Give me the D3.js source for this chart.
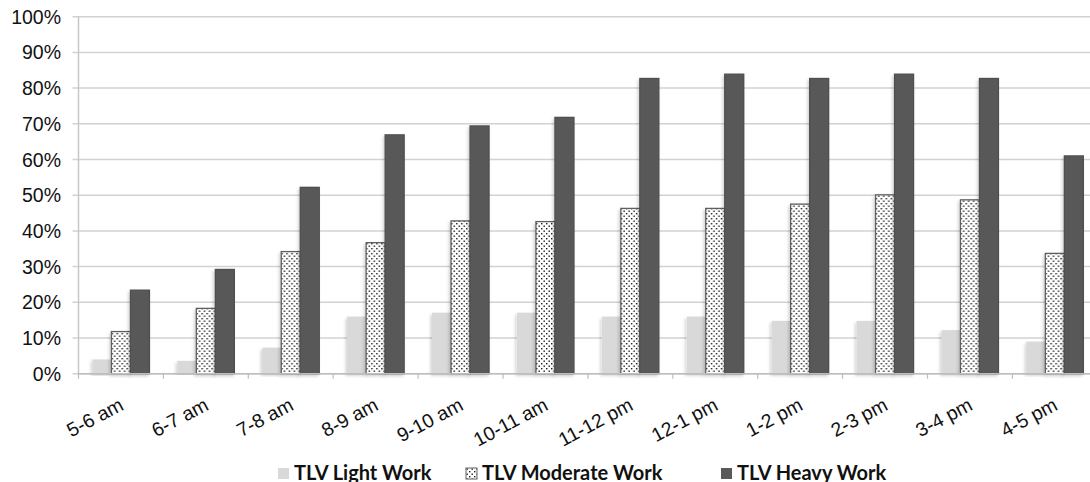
<!DOCTYPE html>
<html>
<head>
<meta charset="utf-8">
<script src="https://cdn.jsdelivr.net/npm/d3@7/dist/d3.min.js"></script>
<style>
  html, body { margin: 0; padding: 0; background: #fff; }
  svg { display: block; }
</style>
</head>
<body>
<svg id="chart" width="1090" height="482"></svg>
<script>
const categories = ["5-6 am","6-7 am","7-8 am","8-9 am","9-10 am","10-11 am","11-12 pm","12-1 pm","1-2 pm","2-3 pm","3-4 pm","4-5 pm"];
const seriesNames = ["TLV Light Work","TLV Moderate Work","TLV Heavy Work"];
const lightWork    = [4.0, 3.6, 7.3, 16.0, 17.1, 17.1, 16.0, 16.0, 14.8, 14.8, 12.2, 9.0];
const moderateWork = [11.8, 18.3, 34.2, 36.7, 42.8, 42.6, 46.3, 46.3, 47.5, 50.1, 48.7, 33.7];
const heavyWork    = [23.4, 29.2, 52.2, 66.9, 69.4, 71.8, 82.7, 83.9, 82.7, 83.9, 82.7, 61.0];
const yTicks = [0,10,20,30,40,50,60,70,80,90,100];

(function () {
const svg = d3.select("#chart");
const plotLeft = 78.5, plotTop = 16.7, plotBottom = 373.7;
const bandW = 84.9;
const plotRight = plotLeft + bandW * categories.length;

const x = d3.scaleBand().domain(categories).range([plotLeft, plotRight]).padding(0);
const groupW = 57;
const xs = d3.scaleBand().domain(seriesNames).range([(x.bandwidth()-groupW)/2, (x.bandwidth()+groupW)/2]).padding(0);
const y = d3.scaleLinear().domain([0,100]).range([plotBottom, plotTop]);

const defs = svg.append("defs");
const pat = defs.append("pattern").attr("id","dots").attr("patternUnits","userSpaceOnUse")
  .attr("width",5).attr("height",5);
pat.append("rect").attr("width",5).attr("height",5).attr("fill","#fff");
pat.append("rect").attr("x",0.5).attr("y",0.5).attr("width",1.4).attr("height",1.4).attr("fill","#1a1a1a");
pat.append("rect").attr("x",3).attr("y",3).attr("width",1.4).attr("height",1.4).attr("fill","#1a1a1a");

const filt = defs.append("filter").attr("id","shadow").attr("x","-30%").attr("y","-10%").attr("width","160%").attr("height","120%");
filt.append("feDropShadow").attr("dx",-1.5).attr("dy",2).attr("stdDeviation",1.5)
  .attr("flood-color","#000").attr("flood-opacity",0.18);

// gridlines
svg.append("g").selectAll("line").data(yTicks).join("line")
  .attr("x1", plotLeft - 6).attr("x2", plotRight)
  .attr("y1", d => y(d)).attr("y2", d => y(d))
  .attr("stroke", "#d2d2d2").attr("stroke-width", 1.5);

// y axis line
svg.append("line").attr("x1", plotLeft).attr("x2", plotLeft).attr("y1", plotTop).attr("y2", plotBottom)
  .attr("stroke", "#c8c8c8").attr("stroke-width", 1.5);

// y labels
svg.append("g").selectAll("text").data(yTicks).join("text")
  .attr("x", 61).attr("y", d => y(d)).attr("dy", "0.36em")
  .attr("text-anchor", "end")
  .attr("font-family", "Liberation Sans, Arial, sans-serif")
  .attr("font-size", 19.5).attr("fill", "#111")
  .text(d => d + "%");

// bars
const data = categories.map((c,i) => ({cat: c, vals: [lightWork[i], moderateWork[i], heavyWork[i]]}));
const fills = ["#d9d9d9", "url(#dots)", "#595959"];
const strokes = ["none", "#5f5f5f", "#4f4f4f"];
const groups = svg.append("g").selectAll("g").data(data).join("g")
  .attr("transform", d => `translate(${x(d.cat)},0)`);
groups.selectAll("rect").data(d => d.vals.map((v,j) => ({v, s: seriesNames[j], j}))).join("rect")
  .attr("x", d => xs(d.s)).attr("width", xs.bandwidth())
  .attr("y", d => y(d.v)).attr("height", d => y(0) - y(d.v))
  .attr("fill", d => fills[d.j]).attr("stroke", d => strokes[d.j]).attr("stroke-width", 1.3)
  .attr("filter", "url(#shadow)");

// x axis baseline + ticks
svg.append("line").attr("x1", plotLeft).attr("x2", plotRight).attr("y1", plotBottom).attr("y2", plotBottom)
  .attr("stroke", "#bdbdbd").attr("stroke-width", 1.5);
const bounds = d3.range(categories.length + 1).map(i => plotLeft + i * bandW);
svg.append("g").selectAll("line").data(bounds).join("line")
  .attr("x1", d => d).attr("x2", d => d).attr("y1", plotBottom).attr("y2", plotBottom + 5)
  .attr("stroke", "#bdbdbd").attr("stroke-width", 1.2);

// x labels
svg.append("g").selectAll("text").data(categories).join("text")
  .attr("transform", d => `translate(${x(d) + x.bandwidth()/2 + 4},409) rotate(-28)`)
  .attr("text-anchor", "end")
  .attr("font-family", "Liberation Sans, Arial, sans-serif")
  .attr("font-size", 19.5).attr("fill", "#111")
  .text(d => d);

// legend
const legendX = [278, 466, 721];
const legendFills = ["#d9d9d9", "url(#dots)", "#595959"];
const lg = svg.append("g").selectAll("g").data(seriesNames).join("g")
  .attr("transform", (d,i) => `translate(${legendX[i]},468)`);
lg.append("rect").attr("width", 11).attr("height", 11)
  .attr("fill", (d,i) => legendFills[i]).attr("stroke", (d,i) => i === 1 ? "#5f5f5f" : "none");
lg.append("text").attr("x", 16).attr("y", 11.5)
  .attr("font-family", "Lato, Open Sans, sans-serif").attr("font-weight", "bold")
  .attr("font-size", 20).attr("fill", "#111")
  .text(d => d);
})();
</script>
</body>
</html>
